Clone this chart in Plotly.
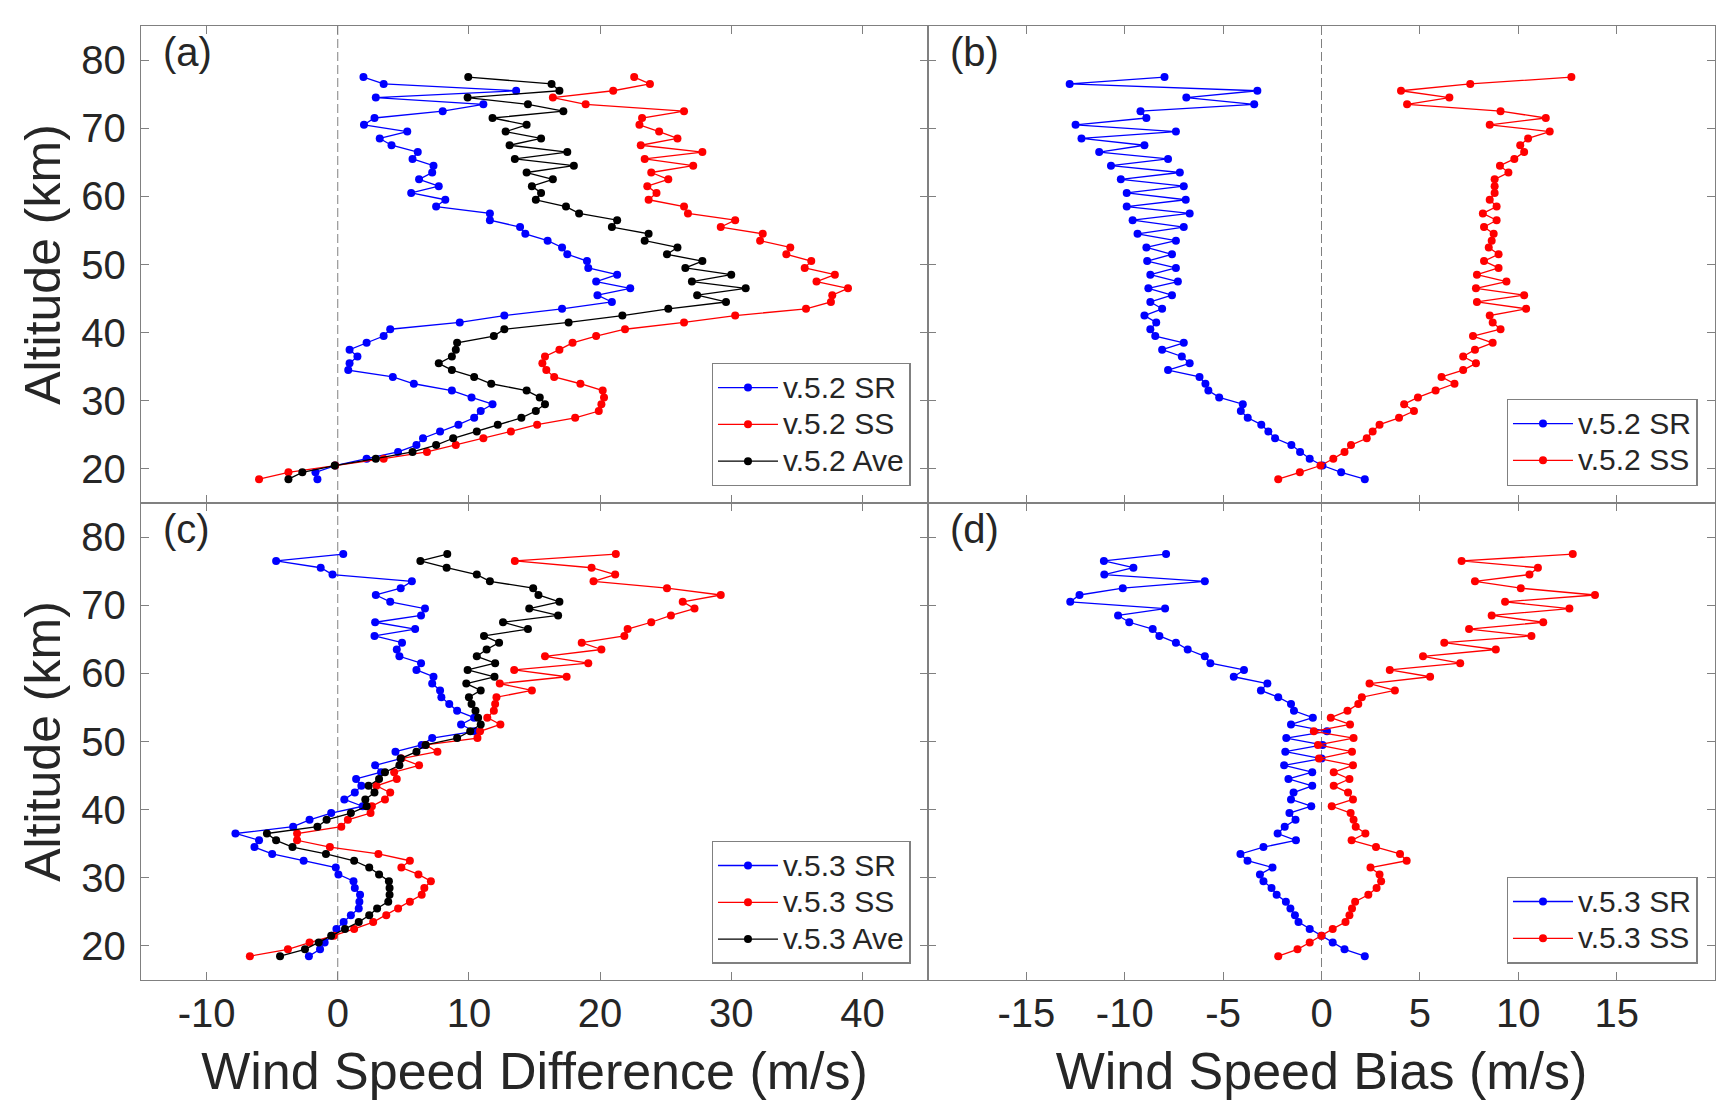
import plotly.graph_objects as go

# altitude levels (km), top to bottom
altitude = [77.5, 76.5, 75.5, 74.5, 73.5, 72.5, 71.5, 70.5, 69.5, 68.5,
            67.5, 66.5, 65.5, 64.5, 63.5, 62.5, 61.5, 60.5, 59.5, 58.5,
            57.5, 56.5, 55.5, 54.5, 53.5, 52.5, 51.5, 50.5, 49.5, 48.5,
            47.5, 46.5, 45.5, 44.5, 43.5, 42.5, 41.5, 40.5, 39.5, 38.5,
            37.5, 36.5, 35.5, 34.5, 33.5, 32.5, 31.5, 30.5, 29.5, 28.5,
            27.5, 26.5, 25.5, 24.5, 23.5, 22.5, 21.5, 20.5, 19.5, 18.5]

# (a) v5.2 wind speed difference
diff52_sr = [1.96, 3.5, 13.6, 2.9, 11.1, 8.0, 2.8, 2.0, 5.3, 3.2,
             4.1, 6.1, 5.7, 7.3, 7.2, 6.2, 7.7, 5.6, 8.2, 7.5,
             11.6, 11.6, 13.9, 14.3, 16.0, 17.1, 17.5, 19.0, 19.1, 21.3,
             19.7, 22.3, 19.8, 20.9, 17.1, 12.7, 9.3, 4.0, 3.5, 2.2,
             0.9, 1.5, 0.9, 0.8, 4.2, 5.8, 8.7, 10.2, 11.8, 10.9,
             10.4, 9.2, 7.8, 6.5, 6.0, 4.6, 2.2, -0.2, -1.7, -1.55]
diff52_ss = [22.6, 23.8, 21.0, 16.4, 18.9, 26.4, 23.2, 23.0, 24.5, 25.9,
             23.1, 27.8, 23.4, 27.1, 23.9, 25.2, 23.6, 24.3, 23.7, 26.4,
             26.7, 30.3, 29.2, 32.4, 32.2, 34.5, 34.2, 36.1, 35.6, 37.9,
             36.5, 38.9, 37.7, 37.6, 35.7, 30.3, 26.4, 21.9, 19.7, 17.9,
             16.9, 15.8, 15.6, 15.9, 16.5, 18.5, 20.2, 20.3, 20.1, 19.9,
             18.1, 15.2, 13.2, 11.1, 9.0, 6.8, 3.5, -0.2, -3.76, -6.0]
diff52_ave = [9.95, 16.3, 16.9, 9.9, 14.5, 17.2, 11.8, 14.4, 12.8, 15.5,
              13.1, 17.5, 13.5, 18.0, 14.4, 16.4, 14.8, 15.5, 15.1, 17.4,
              18.4, 21.3, 20.9, 23.7, 23.4, 25.9, 25.1, 27.8, 26.5, 30.0,
              27.0, 31.1, 27.4, 29.6, 25.2, 21.7, 17.6, 12.7, 11.9, 9.1,
              9.0, 8.7, 7.7, 8.7, 10.4, 11.7, 14.4, 15.4, 15.8, 15.1,
              14.0, 12.2, 10.6, 8.8, 7.5, 5.7, 2.9, -0.23, -2.7, -3.76]

# (b) v5.2 wind speed bias
bias52_sr = [-7.98, -12.8, -3.26, -6.87, -3.42, -9.2, -8.9, -12.5, -7.4, -12.2,
             -9.0, -11.3, -7.8, -10.7, -7.2, -10.2, -7.0, -9.9, -6.9, -9.9,
             -6.7, -9.6, -7.0, -9.35, -7.4, -8.9, -7.6, -8.86, -7.4, -8.7,
             -7.3, -8.8, -7.6, -8.7, -8.1, -9.0, -8.4, -8.7, -8.45, -7.0,
             -8.1, -7.1, -6.7, -7.8, -6.2, -5.9, -5.75, -5.2, -4.0, -4.1,
             -3.75, -3.06, -2.7, -2.36, -1.53, -1.09, -0.6, 0.05, 1.0, 2.2]
bias52_ss = [12.7, 7.56, 4.04, 6.5, 4.35, 9.1, 11.4, 8.55, 11.6, 10.5,
             10.1, 10.3, 9.8, 9.07, 9.5, 8.8, 8.8, 8.8, 8.55, 8.9,
             8.2, 8.9, 8.26, 8.75, 8.65, 8.5, 9.0, 8.26, 9.0, 7.9,
             9.4, 7.85, 10.3, 7.9, 10.4, 8.55, 8.7, 9.1, 7.7, 8.7,
             7.8, 7.2, 7.85, 7.2, 6.1, 6.76, 5.8, 4.9, 4.2, 4.7,
             3.94, 2.95, 2.6, 2.3, 1.5, 1.17, 0.6, -0.05, -1.1, -2.2]

# (c) v5.3 wind speed difference
diff53_sr = [0.42, -4.7, -1.3, -0.4, 5.65, 4.8, 2.9, 4.0, 6.65, 6.35,
             2.85, 5.9, 2.8, 4.9, 4.5, 4.7, 6.35, 6.0, 7.3, 7.2,
             7.8, 7.9, 8.5, 9.1, 10.4, 9.4, 10.4, 7.2, 6.4, 4.4,
             4.8, 2.85, 3.3, 1.4, 1.8, 1.3, 0.5, 1.9, -0.5, -2.15,
             -3.4, -7.8, -6.0, -6.35, -5.0, -2.6, -0.15, 0.05, 1.2, 1.3,
             1.7, 1.65, 1.6, 1.0, 0.45, -0.1, -0.45, -1.0, -1.35, -2.2]
diff53_ss = [21.2, 13.5, 19.35, 21.15, 19.5, 25.1, 29.2, 26.3, 27.2, 25.4,
             23.9, 22.1, 21.85, 18.6, 20.1, 15.8, 19.1, 13.45, 17.45, 12.35,
             14.8, 12.1, 12.0, 11.9, 11.4, 12.4, 10.85, 10.65, 6.7, 7.6,
             4.85, 6.2, 4.3, 4.5, 2.95, 4.0, 3.6, 2.6, 2.5, 0.77,
             0.27, -3.1, -3.1, -0.6, 3.1, 5.5, 4.85, 6.15, 7.1, 6.6,
             6.4, 5.5, 4.6, 3.7, 2.7, 1.25, -0.3, -2.15, -3.8, -6.7]
diff53_ave = [8.35, 6.3, 8.3, 10.6, 11.6, 14.9, 15.3, 16.9, 14.6, 16.8,
              12.6, 14.5, 11.15, 12.3, 11.35, 10.6, 12.0, 9.9, 11.95, 9.8,
              10.9, 10.0, 10.2, 10.5, 10.7, 10.9, 10.1, 9.1, 6.7, 6.0,
              4.8, 4.7, 3.6, 3.15, 2.35, 2.8, 2.1, 2.2, 1.0, -0.85,
              -1.55, -5.4, -4.7, -3.45, -0.9, 1.25, 2.4, 3.15, 3.9, 3.95,
              3.95, 3.85, 3.0, 2.4, 1.6, 0.55, -0.5, -1.45, -2.5, -4.4]

# (d) v5.3 wind speed bias
bias53_sr = [-7.9, -11.06, -9.56, -11.04, -5.93, -10.1, -12.3, -12.77, -7.95, -10.34,
             -9.77, -8.58, -8.24, -7.4, -6.8, -5.93, -5.65, -3.94, -4.46, -2.75,
             -3.08, -2.2, -1.55, -1.4, -0.44, -1.55, 0.28, -1.79, 0.05, -1.84,
             0.0, -1.9, -0.47, -1.68, -0.47, -1.42, -1.55, -0.52, -1.63, -1.32,
             -1.87, -2.23, -1.3, -2.95, -4.12, -3.76, -2.49, -3.13, -2.95, -2.54,
             -2.28, -1.81, -1.58, -1.35, -1.17, -0.6, 0.0, 0.57, 1.17, 2.2]
bias53_ss = [12.77, 7.12, 11.0, 10.57, 7.8, 10.13, 13.9, 9.33, 12.6, 8.65,
             11.27, 7.5, 10.67, 6.24, 8.86, 5.16, 7.05, 3.47, 5.52, 2.44,
             3.73, 2.05, 1.87, 1.32, 0.47, 1.45, -0.39, 1.63, -0.18, 1.55,
             -0.13, 1.6, 0.62, 1.42, 0.62, 1.35, 1.6, 0.52, 1.48, 1.63,
             1.74, 2.23, 1.53, 2.77, 3.99, 4.33, 2.49, 2.95, 3.03, 2.8,
             2.38, 1.71, 1.55, 1.42, 1.22, 0.57, 0.0, -0.6, -1.22, -2.2]

diff_ticks = [-10, 0, 10, 20, 30, 40]
diff_labels = ["-10", "0", "10", "20", "30", "40"]
bias_ticks = [-15, -10, -5, 0, 5, 10, 15]
bias_labels = ["-15", "-10", "-5", "0", "5", "10", "15"]
alt_ticks = [20, 30, 40, 50, 60, 70, 80]

FONT = "Liberation Sans, Arial, sans-serif"
TXT = "#262626"
GRAY = "#808080"

fig = go.Figure()


def add(x, name, color, n, leg):
    # legend rows are spaced by the (smaller) legend font size, text drawn at 30px
    fig.add_trace(go.Scatter(
        x=x, y=altitude, name=f'<span style="font-size:30px">{name}</span>',
        mode="lines+markers",
        line=dict(color=color, width=1.3),
        marker=dict(color=color, size=8),
        xaxis="x" if n == 1 else f"x{n}", yaxis="y" if n == 1 else f"y{n}",
        legend=leg))


add(diff52_sr, "v.5.2 SR", "#0000ff", 1, "legend")
add(diff52_ss, "v.5.2 SS", "#ff0000", 1, "legend")
add(diff52_ave, "v.5.2 Ave", "#000000", 1, "legend")
add(bias52_sr, "v.5.2 SR", "#0000ff", 2, "legend2")
add(bias52_ss, "v.5.2 SS", "#ff0000", 2, "legend2")
add(diff53_sr, "v.5.3 SR", "#0000ff", 3, "legend3")
add(diff53_ss, "v.5.3 SS", "#ff0000", 3, "legend3")
add(diff53_ave, "v.5.3 Ave", "#000000", 3, "legend3")
add(bias53_sr, "v.5.3 SR", "#0000ff", 4, "legend4")
add(bias53_ss, "v.5.3 SS", "#ff0000", 4, "legend4")

axis_common = dict(showline=True, linecolor=GRAY, linewidth=1.3, mirror="ticks",
                   ticks="inside", ticklen=8, tickcolor=GRAY, tickwidth=1.3,
                   showgrid=False, zeroline=False,
                   tickfont=dict(family=FONT, size=40, color=TXT))
xtitle_font = dict(family=FONT, size=52, color=TXT)
ytitle_font = dict(family=FONT, size=50, color=TXT)

fig.update_layout(
    xaxis=dict(axis_common, domain=[0, 0.5], anchor="y", range=[-15, 45],
               tickvals=diff_ticks, ticktext=diff_labels, showticklabels=False),
    yaxis=dict(axis_common, domain=[0.5, 1], anchor="x", range=[15, 85],
               tickvals=alt_ticks, ticklabelstandoff=6,
               title=dict(text="Altitude (km)", font=ytitle_font, standoff=4)),
    xaxis2=dict(axis_common, domain=[0.5, 1], anchor="y2", range=[-20, 20],
                tickvals=bias_ticks, ticktext=bias_labels, showticklabels=False),
    yaxis2=dict(axis_common, domain=[0.5, 1], anchor="x2", range=[15, 85],
                tickvals=alt_ticks, showticklabels=False),
    xaxis3=dict(axis_common, domain=[0, 0.5], anchor="y3", range=[-15, 45],
                tickvals=diff_ticks, ticktext=diff_labels, ticklabelstandoff=-2,
                title=dict(text="Wind Speed Difference (m/s)", font=xtitle_font, standoff=18)),
    yaxis3=dict(axis_common, domain=[0, 0.5], anchor="x3", range=[15, 85],
                tickvals=alt_ticks, ticklabelstandoff=6,
                title=dict(text="Altitude (km)", font=ytitle_font, standoff=4)),
    xaxis4=dict(axis_common, domain=[0.5, 1], anchor="y4", range=[-20, 20],
                tickvals=bias_ticks, ticktext=bias_labels, ticklabelstandoff=-2,
                title=dict(text="Wind Speed Bias (m/s)", font=xtitle_font, standoff=18)),
    yaxis4=dict(axis_common, domain=[0, 0.5], anchor="x4", range=[15, 85],
                tickvals=alt_ticks, showticklabels=False),
)

leg_common = dict(font=dict(family=FONT, size=26, color=TXT), bgcolor="white",
                  bordercolor=GRAY, borderwidth=1.3, xanchor="right", yanchor="bottom",
                  itemwidth=60, tracegroupgap=0)
fig.update_layout(
    legend=dict(leg_common, x=0.489, y=0.518),
    legend2=dict(leg_common, x=0.989, y=0.518),
    legend3=dict(leg_common, x=0.489, y=0.017),
    legend4=dict(leg_common, x=0.989, y=0.017),
)

# dashed zero lines and panel letters
for n, letter in zip([1, 2, 3, 4], ["(a)", "(b)", "(c)", "(d)"]):
    xr = "x" if n == 1 else f"x{n}"
    yr = "y" if n == 1 else f"y{n}"
    fig.add_shape(type="line", xref=xr, yref=f"{yr} domain", x0=0, x1=0, y0=0, y1=1,
                  line=dict(color=GRAY, width=1, dash="9px,4px"), layer="below")
    fig.add_annotation(text=letter, xref=f"{xr} domain", yref=f"{yr} domain",
                       x=0.026, y=0.995, xanchor="left", yanchor="top", showarrow=False,
                       font=dict(family=FONT, size=40, color=TXT))

fig.update_layout(
    width=1725, height=1108,
    margin=dict(l=133, r=18, t=18, b=136),
    paper_bgcolor="white", plot_bgcolor="white",
    font=dict(family=FONT, color=TXT),
)

fig.write_html("out.html")
